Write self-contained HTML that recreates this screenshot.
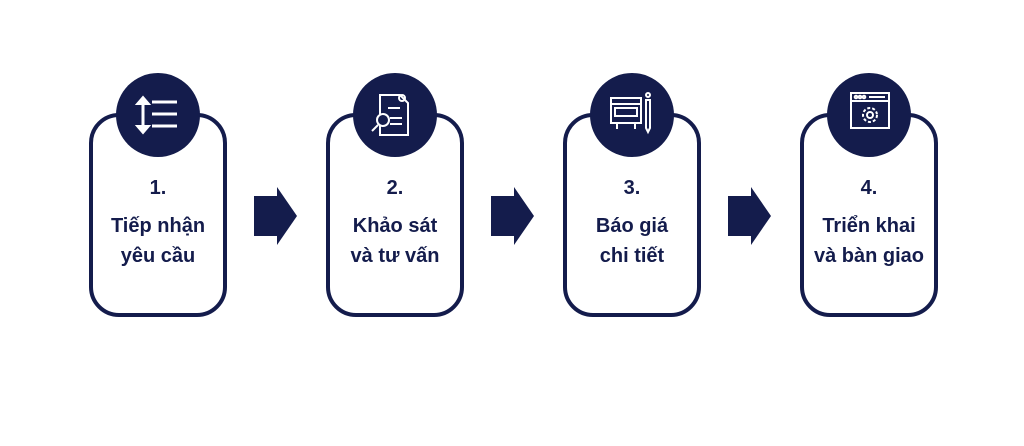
<!DOCTYPE html>
<html><head><meta charset="utf-8"><style>
html,body{margin:0;padding:0;background:#fff;}
body{width:1024px;height:446px;position:relative;overflow:hidden;font-family:"Liberation Sans","DejaVu Sans",sans-serif;color:#141c4c;}
.box{position:absolute;top:113px;width:130px;height:196px;border:4px solid #141c4c;border-radius:30px;background:#fff;}
.circ{position:absolute;top:73px;width:84px;height:84px;border-radius:50%;background:#141c4c;}
.t{position:absolute;top:173px;width:138px;text-align:center;font-size:20px;font-weight:bold;line-height:30px;}
.t .n{margin-bottom:8px;display:block;}
</style></head><body>
<svg width="1024" height="446" style="position:absolute;left:0;top:0">
<g fill="#141c4c">
<polygon points="254,196 277,196 277,187 297,216 277,245 277,236 254,236"/>
<polygon points="491,196 514,196 514,187 534,216 514,245 514,236 491,236"/>
<polygon points="728,196 751,196 751,187 771,216 751,245 751,236 728,236"/>
</g>
</svg>
<div class="box" style="left:89px"></div>
<div class="box" style="left:326px"></div>
<div class="box" style="left:563px"></div>
<div class="box" style="left:800px"></div>
<div class="circ" style="left:116px"></div>
<div class="circ" style="left:353px"></div>
<div class="circ" style="left:590px"></div>
<div class="circ" style="left:827px"></div>
<svg width="1024" height="446" style="position:absolute;left:0;top:0" fill="none" stroke="#fff" stroke-width="2">
<g stroke-width="3"><line x1="143" y1="103" x2="143" y2="127"/><line x1="152" y1="102" x2="177" y2="102"/><line x1="152" y1="114" x2="177" y2="114"/><line x1="152" y1="126" x2="177" y2="126"/></g>
<polygon points="137,104 143,97 149,104" fill="#fff"/><polygon points="137,126 143,133 149,126" fill="#fff"/>
<path d="M380,95 h20 l8,8 v32 h-28 z"/><line x1="388" y1="108" x2="400" y2="108"/><line x1="390" y1="118" x2="402" y2="118"/><line x1="390" y1="124" x2="402" y2="124"/><circle cx="402" cy="98" r="3"/><circle cx="383" cy="120" r="6" fill="#141c4c"/><line x1="378" y1="125" x2="372" y2="131"/>
<rect x="611" y="98" width="30" height="25"/><line x1="611" y1="104" x2="641" y2="104"/><rect x="615" y="108" width="22" height="8"/><line x1="617" y1="123" x2="617" y2="129"/><line x1="635" y1="123" x2="635" y2="129"/><path d="M646,100 v28 l2,4 l2,-4 v-28 z"/><circle cx="648" cy="95" r="2"/>
<rect x="851" y="93" width="38" height="35"/><line x1="851" y1="101" x2="889" y2="101"/><circle cx="856" cy="97" r="1.3"/><circle cx="860" cy="97" r="1.3"/><circle cx="864" cy="97" r="1.3"/><line x1="869" y1="97" x2="885" y2="97"/><circle cx="870" cy="115" r="7" stroke-dasharray="3 2"/><circle cx="870" cy="115" r="3"/>
</svg>
<div class="t" style="left:89px"><span class="n">1.</span>Tiếp nhận<br>yêu cầu</div>
<div class="t" style="left:326px"><span class="n">2.</span>Khảo sát<br>và tư vấn</div>
<div class="t" style="left:563px"><span class="n">3.</span>Báo giá<br>chi tiết</div>
<div class="t" style="left:800px"><span class="n">4.</span>Triển khai<br>và bàn giao</div>
</body></html>
